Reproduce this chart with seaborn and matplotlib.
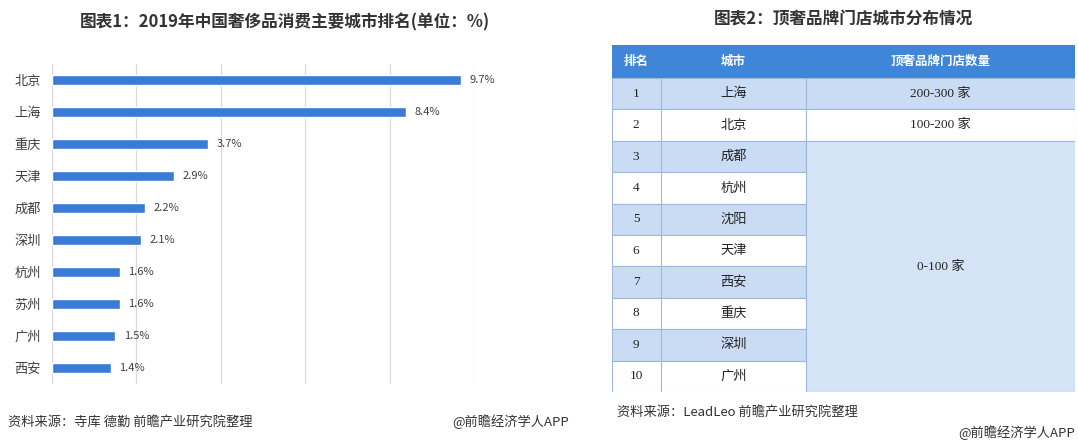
import matplotlib
matplotlib.use("Agg")
import matplotlib.pyplot as plt
import seaborn as sns
import pandas as pd
from matplotlib.patches import Rectangle

# ---- data ----
cities = ["北京", "上海", "重庆", "天津", "成都", "深圳", "杭州", "苏州", "广州", "西安"]
shares = [9.7, 8.4, 3.7, 2.9, 2.2, 2.1, 1.6, 1.6, 1.5, 1.4]

table_header = ["排名", "城市", "顶奢品牌门店数量"]
table_rank = ["1", "2", "3", "4", "5", "6", "7", "8", "9", "10"]
table_city = ["上海", "北京", "成都", "杭州", "沈阳", "天津", "西安", "重庆", "深圳", "广州"]
table_count = ["200-300 家", "100-200 家", "0-100 家"]
count_spans = [1, 1, 8]

sns.set_theme(style="white")
plt.rcParams['font.family'] = ['Noto Sans CJK SC', 'DejaVu Sans']

W, H = 1078, 446
fig = plt.figure(figsize=(W / 100, H / 100), dpi=100)
fig.patch.set_facecolor("white")

# ---- left bar chart ----
ax = fig.add_axes([52 / W, 1 - 384 / H, (474 - 52) / W, (384 - 64) / H])
df = pd.DataFrame({"city": cities, "share": shares})
sns.barplot(data=df, x="share", y="city", orient="h", color="#3a7bd5",
            saturation=1, width=0.33, ax=ax)
ax.set_xlim(0, 10)
ax.set_xticks([0, 2, 4, 6, 8, 10])
ax.set_xticklabels([])
ax.grid(axis="x", color="#d9d9d9", linewidth=0.9)
ax.set_axisbelow(True)
for s in ax.spines.values():
    s.set_visible(False)
ax.set_xlabel("")
ax.set_ylabel("")
ax.tick_params(axis="y", length=0, pad=8, labelsize=9.5, labelcolor="#404040")
ax.tick_params(axis="x", length=0)
for i, v in enumerate(shares):
    ax.text(v + 0.2, i, f"{v}%", va="center", ha="left", fontsize=8, color="#404040")

fig.text(285 / W, 1 - 22 / H, "图表1：2019年中国奢侈品消费主要城市排名(单位：%)",
         ha="center", va="center", fontsize=12, fontweight="bold", color="#333333")
fig.text(8 / W, 1 - 422 / H, "资料来源：寺库 德勤 前瞻产业研究院整理",
         ha="left", va="center", fontsize=9.5, color="#333333")
fig.text(452 / W, 1 - 422 / H, "@前瞻经济学人APP",
         ha="left", va="center", fontsize=9.5, color="#333333")

# ---- right table ----
tx0, tx1, ty0, ty1 = 612, 1075, 45, 392
tax = fig.add_axes([tx0 / W, 1 - ty1 / H, (tx1 - tx0) / W, (ty1 - ty0) / H])
tw = tx1 - tx0
th = ty1 - ty0
tax.set_xlim(0, tw)
tax.set_ylim(th, 0)
tax.axis("off")

col_x = [0, 49, 194, tw]
header_h = 33
row_h = (th - header_h) / len(table_rank)
blue_head = "#3f86d9"
light = "#c9dcf3"
merged = "#d5e3f7"
line_c = "#9fb8d8"

tax.add_patch(Rectangle((0, 0), tw, header_h, facecolor=blue_head, edgecolor="none"))
for j, h in enumerate(table_header):
    if j == 0:
        cx = 24
    else:
        cx = (col_x[j] + col_x[j + 1]) / 2
    tax.text(cx, header_h / 2, h, ha="center", va="center", color="white",
             fontsize=9, fontweight="bold")

for i, (r, c) in enumerate(zip(table_rank, table_city)):
    y = header_h + i * row_h
    fc = light if i % 2 == 0 else "white"
    tax.add_patch(Rectangle((0, y), col_x[2], row_h, facecolor=fc, edgecolor=line_c, linewidth=0.8))
    tax.plot([col_x[1], col_x[1]], [y, y + row_h], color=line_c, linewidth=0.8)
    tax.text(24, y + row_h / 2, r, ha="center", va="center", fontsize=9.5,
             color="#222222", family=["Liberation Serif", "DejaVu Serif"])
    tax.text((col_x[1] + col_x[2]) / 2, y + row_h / 2, c, ha="center", va="center",
             fontsize=9.5, color="#222222")

start = 0
for k, (txt, span) in enumerate(zip(table_count, count_spans)):
    y = header_h + start * row_h
    hgt = span * row_h
    if span > 1:
        fc = merged
    else:
        fc = light if start % 2 == 0 else "white"
    tax.add_patch(Rectangle((col_x[2], y), tw - col_x[2], hgt, facecolor=fc,
                            edgecolor=line_c, linewidth=0.8))
    tax.text((col_x[2] + tw) / 2, y + hgt / 2, txt, ha="center", va="center",
             fontsize=9.5, color="#222222", family=["Liberation Serif", "Noto Sans CJK SC"])
    start += span

fig.text(843 / W, 1 - 20 / H, "图表2：顶奢品牌门店城市分布情况",
         ha="center", va="center", fontsize=12, fontweight="bold", color="#333333")
fig.text(617 / W, 1 - 412 / H, "资料来源：LeadLeo 前瞻产业研究院整理",
         ha="left", va="center", fontsize=9.5, color="#333333")
fig.text(1075 / W, 1 - 433 / H, "@前瞻经济学人APP",
         ha="right", va="center", fontsize=9.5, color="#333333")

fig.savefig("out.png", dpi=100, facecolor="white")
